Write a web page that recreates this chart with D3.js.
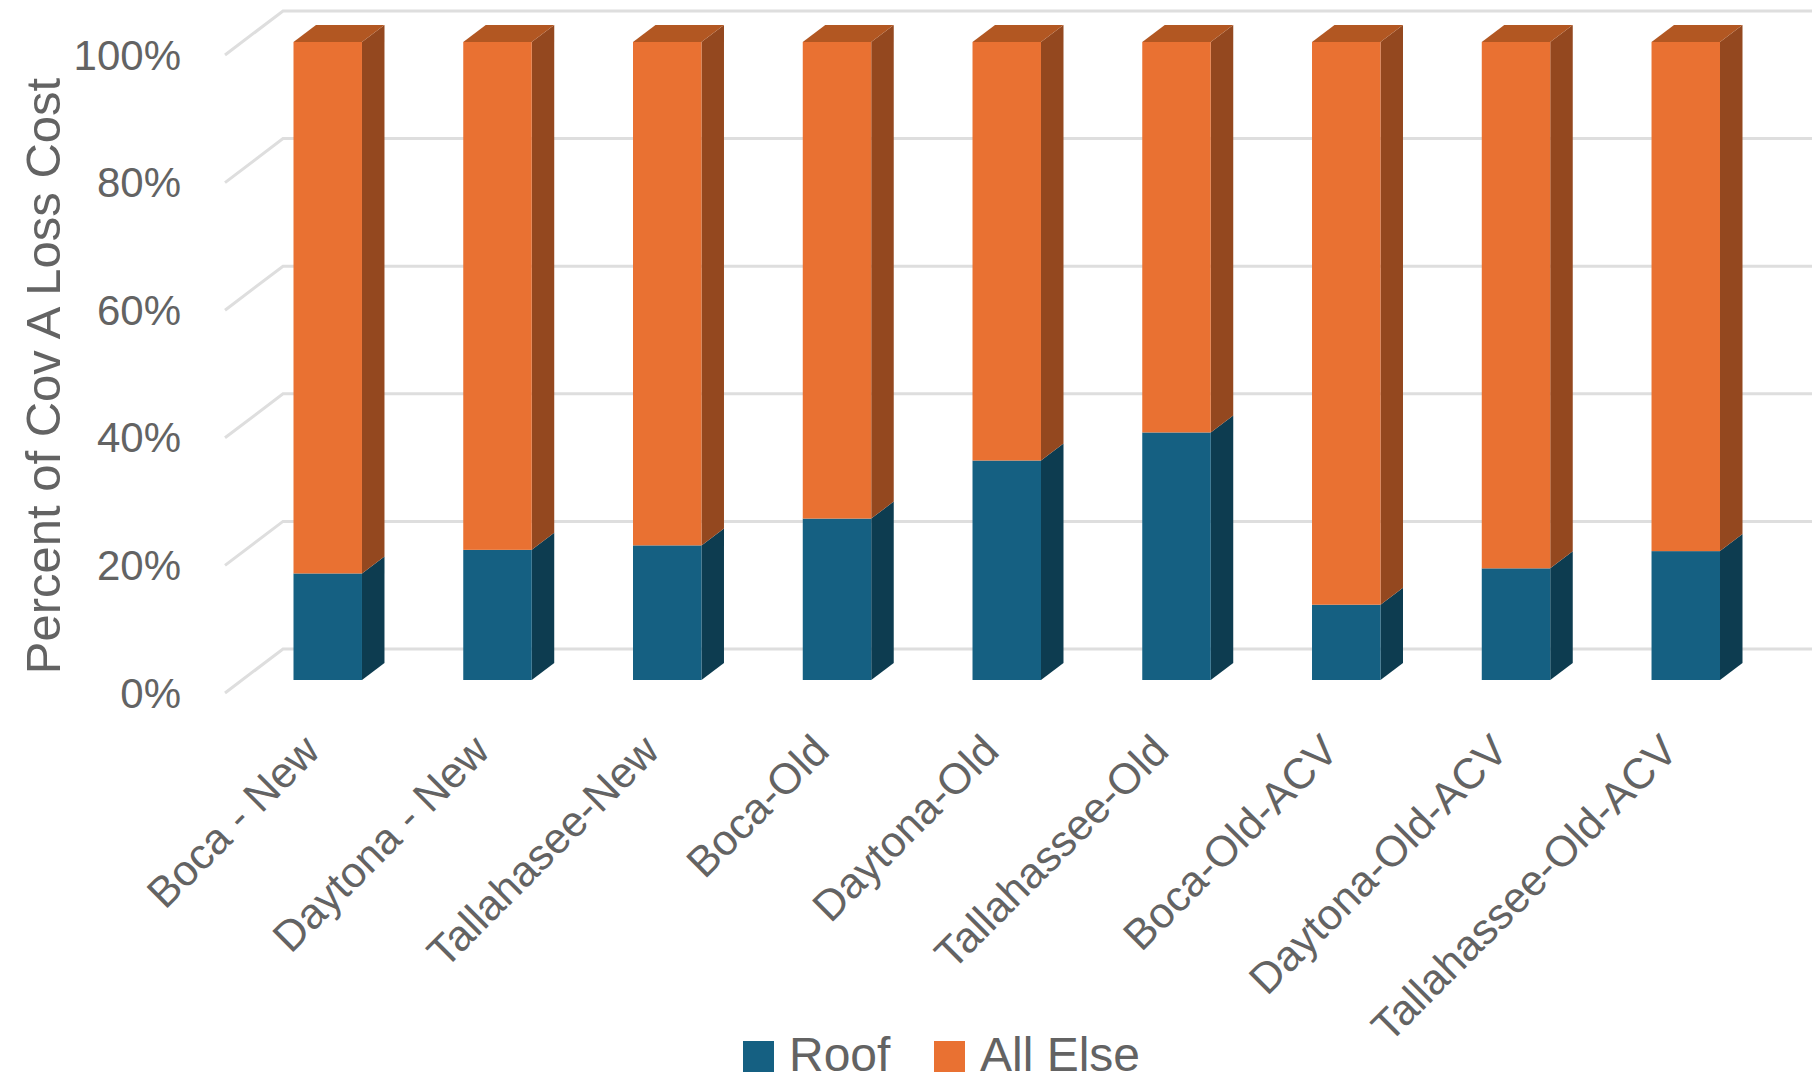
<!DOCTYPE html>
<html><head><meta charset="utf-8">
<script src="https://cdn.jsdelivr.net/npm/d3@7"></script>
<style>
html,body{margin:0;padding:0;background:#fff;overflow:hidden}
text{font-family:"Liberation Sans",sans-serif;fill:#636363}
</style></head><body><svg id="c" width="1818" height="1081"></svg>
<script>
const categories = ["Boca - New","Daytona - New","Tallahasee-New","Boca-Old","Daytona-Old","Tallahassee-Old","Boca-Old-ACV","Daytona-Old-ACV","Tallahassee-Old-ACV"];
const seriesNames = ["Roof","All Else"];
const roof = [0.167,0.204,0.211,0.253,0.344,0.388,0.118,0.175,0.202];
const allElse = [0.833,0.796,0.789,0.747,0.656,0.612,0.882,0.825,0.798];
const tickValues = [0,0.2,0.4,0.6,0.8,1];

const frontColors = ["#156082","#E97132"], sideColors = ["#0D3C50","#94481F"], topColor = "#B25722";
const svg = d3.select("#c");
const x = d3.scaleBand().domain(categories).range([293.5,1720]).paddingInner(0.5966).paddingOuter(0);
const y = d3.scaleLinear().domain([0,1]).range([680,42]);
const depth = {dx:22.5, dy:-17};
const wall = {x0:225, x1:283, y0:13, y1:-31, xEnd:1812};

const grid = svg.append("g");
tickValues.forEach(t=>{
  grid.append("polyline")
    .attr("points",[[wall.x0,y(t)+wall.y0],[wall.x1,y(t)+wall.y1],[wall.xEnd,y(t)+wall.y1]].join(" "))
    .attr("fill","none").attr("stroke","#DEDEDE").attr("stroke-width",3);
});

const rows = categories.map((c,i)=>({cat:c,"Roof":roof[i],"All Else":allElse[i]}));
const stacked = d3.stack().keys(seriesNames)(rows);
stacked.forEach((s,si)=>{
  const g = svg.append("g");
  s.forEach(d=>{
    const l = x(d.data.cat), r = l+x.bandwidth(), t = y(d[1]), b = y(d[0]);
    g.append("polygon").attr("fill",sideColors[si])
      .attr("points",[[r,t],[r+depth.dx,t+depth.dy],[r+depth.dx,b+depth.dy],[r,b]].join(" "));
    if(si===1) g.append("polygon").attr("fill",topColor)
      .attr("points",[[l,t],[l+depth.dx,t+depth.dy],[r+depth.dx,t+depth.dy],[r,t]].join(" "));
    g.append("rect").attr("x",l).attr("y",t).attr("width",x.bandwidth()).attr("height",b-t).attr("fill",frontColors[si]);
  });
});

const yAxis = d3.axisLeft(y).tickValues(tickValues).tickSize(0).tickPadding(0).tickFormat(d3.format(".0%"));
const ya = svg.append("g").attr("transform",`translate(181,12)`).call(yAxis);
ya.select(".domain").remove();
ya.selectAll("text").attr("font-size",42).attr("dy","0.36em").style("font-family",'"Liberation Sans",sans-serif');

const xAxis = d3.axisBottom(x).tickSize(0).tickPadding(0);
const xa = svg.append("g").attr("transform",`translate(-30,729)`).call(xAxis);
xa.select(".domain").remove();
xa.selectAll("text").attr("font-size",43).attr("text-anchor","end").attr("dy","0.8em").attr("y",0)
  .attr("transform","rotate(-45)").style("font-family",'"Liberation Sans",sans-serif');

svg.append("text").attr("transform","translate(60,376) rotate(-90)").attr("text-anchor","middle")
  .attr("font-size",49).text("Percent of Cov A Loss Cost");

const legendX = [743,934];
seriesNames.forEach((n,i)=>{
  svg.append("rect").attr("x",legendX[i]).attr("y",1041).attr("width",31).attr("height",31).attr("fill",frontColors[i]);
  svg.append("text").attr("x",legendX[i]+46).attr("y",1070.5).attr("font-size",48).text(n);
});
</script></body></html>
